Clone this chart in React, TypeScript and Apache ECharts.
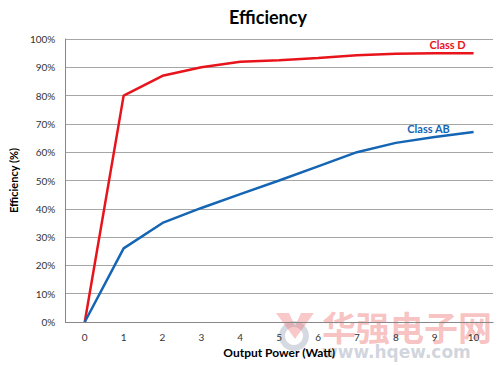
import React, { useEffect, useRef } from "react";
import * as echarts from "echarts";

const categories = ["0", "1", "2", "3", "4", "5", "6", "7", "8", "9", "10"];
const classD = [0, 80, 87, 90, 92, 92.5, 93.3, 94.3, 94.8, 95, 95];
const classAB = [0, 26, 35, 40.3, 45.2, 50, 55, 60, 63.3, 65.4, 67.1];
const yTicks = [0, 10, 20, 30, 40, 50, 60, 70, 80, 90, 100];

const FONT = "Lato, 'Open Sans', 'DejaVu Sans', sans-serif";
const RED = "#e8141b";
const BLUE = "#1565b5";

function seriesLabel(text: string, color: string, value: number, offset: number[]) {
  return {
    symbol: "circle",
    symbolSize: 1,
    itemStyle: { color: "rgba(0,0,0,0)" },
    data: [{ coord: ["10", value] }],
    label: {
      show: true,
      position: "inside",
      formatter: text,
      color,
      fontFamily: FONT,
      fontWeight: "bold",
      fontSize: 11,
      offset,
    },
  };
}

export default function App() {
  const ref = useRef<HTMLDivElement>(null);
  useEffect(() => {
    if (!ref.current) return;
    const chart = echarts.init(ref.current, undefined, { renderer: "svg" });
    chart.setOption({
      animation: false,
      backgroundColor: "#ffffff",
      title: {
        text: "Efficiency",
        left: 263,
        top: 3,
        textAlign: "center",
        textStyle: { fontFamily: FONT, fontSize: 18, fontWeight: "bold", color: "#000" },
      },
      grid: { left: 62, right: 7, top: 39, bottom: 43 },
      xAxis: {
        type: "category",
        data: categories,
        boundaryGap: true,
        name: "Output Power (Watt)",
        nameLocation: "middle",
        nameGap: 23,
        nameTextStyle: { fontFamily: FONT, fontSize: 12, fontWeight: "bold", color: "#000" },
        axisLine: { lineStyle: { color: "#888" } },
        axisTick: { show: false },
        axisLabel: { fontFamily: FONT, fontSize: 10, color: "#333", margin: 10 },
      },
      yAxis: {
        type: "value",
        min: 0,
        max: 100,
        interval: 10,
        name: "Efficiency (%)",
        nameLocation: "middle",
        nameGap: 42,
        nameRotate: 90,
        nameTextStyle: { fontFamily: FONT, fontSize: 11, fontWeight: "bold", color: "#000" },
        axisLine: { show: true, lineStyle: { color: "#888" } },
        axisTick: { show: false },
        splitLine: { lineStyle: { color: "#a6a6a6", width: 1 } },
        axisLabel: {
          fontFamily: FONT,
          fontSize: 10,
          color: "#333",
          margin: 10,
          formatter: (v: number) => (yTicks.includes(v) ? v + "%" : ""),
        },
      },
      series: [
        {
          name: "Class D",
          type: "line",
          data: classD,
          symbol: "none",
          lineStyle: { color: RED, width: 2.5 },
          markPoint: seriesLabel("Class D", RED, classD[10], [-26, -9]),
        },
        {
          name: "Class AB",
          type: "line",
          data: classAB,
          symbol: "none",
          lineStyle: { color: BLUE, width: 2.5 },
          markPoint: seriesLabel("Class AB", BLUE, classAB[10], [-45, -4]),
        },
      ],
      graphic: [
        {
          type: "text",
          left: 322,
          top: 309,
          silent: true,
          style: {
            text: "华强电子网",
            fontFamily: "'Noto Sans CJK SC', sans-serif",
            fontSize: 34,
            fontWeight: "bold",
            fill: "rgba(240,120,120,0.45)",
          },
        },
        {
          type: "text",
          left: 322,
          top: 343,
          silent: true,
          style: {
            text: "www.hqew.com",
            fontFamily: "'DejaVu Sans', sans-serif",
            fontSize: 17,
            fontWeight: "bold",
            fill: "rgba(150,160,180,0.45)",
          },
        },
        {
          type: "ring",
          shape: { cx: 294, cy: 336, r: 15, r0: 9 },
          silent: true,
          style: { fill: "rgba(150,160,180,0.4)" },
        },
        {
          type: "polygon",
          shape: { points: [[276, 313], [289, 313], [295, 326], [301, 313], [314, 313], [295, 339]] },
          silent: true,
          style: { fill: "rgba(240,120,120,0.4)" },
        },
      ],
    });
    return () => chart.dispose();
  }, []);
  return (
    <div
      ref={ref}
      style={{ position: "fixed", left: 0, top: 0, width: 500, height: 365 }}
    />
  );
}
